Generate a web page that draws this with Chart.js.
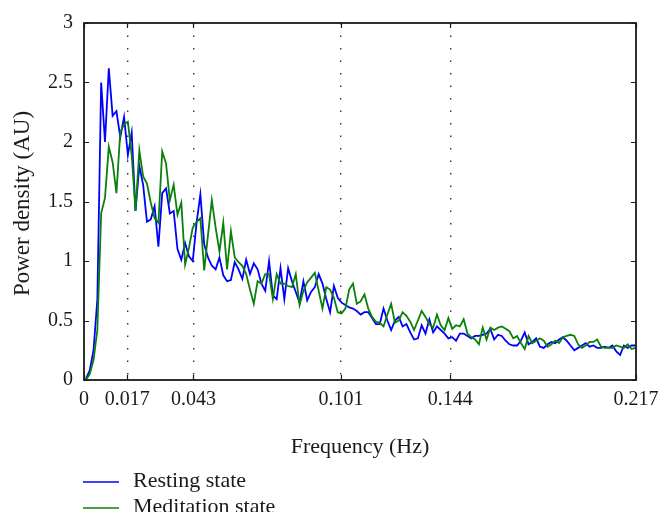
<!DOCTYPE html>
<html>
<head>
<meta charset="utf-8">
<title>Power density spectrum</title>
<script src="https://cdn.jsdelivr.net/npm/chart.js@4.4.1/dist/chart.umd.min.js"></script>
<style>
    html, body { margin: 0; padding: 0; background: #ffffff; }
    canvas { display: block; }
</style>
</head>
<body>
<canvas id="psdChart" width="670" height="527"></canvas>
<script>
// Frequency bins (Hz) - spacing of the spectrum estimate
const binWidth = 0.0015;

// Resting state power density (AU), one value per bin
const restingPower = [
    0.01, 0.08, 0.25, 0.68, 2.50, 2.00, 2.62, 2.22, 2.26, 2.04,
    2.21, 1.89, 2.08, 1.42, 1.80, 1.64, 1.33, 1.35, 1.46, 1.12,
    1.57, 1.61, 1.40, 1.42, 1.10, 1.01, 1.15, 1.04, 1.00, 1.32,
    1.56, 1.14, 1.03, 0.96, 0.93, 1.03, 0.88, 0.83, 0.84, 0.99,
    0.93, 0.85, 1.01, 0.89, 0.98, 0.93, 0.81, 0.75, 1.00, 0.71,
    0.68, 0.94, 0.68, 0.94, 0.83, 0.74, 0.65, 0.83, 0.67, 0.74,
    0.78, 0.89, 0.81, 0.68, 0.57, 0.79, 0.69, 0.65, 0.63, 0.61,
    0.60, 0.58, 0.55, 0.57, 0.57, 0.52, 0.47, 0.47, 0.60, 0.50,
    0.42, 0.50, 0.53, 0.45, 0.47, 0.40, 0.34, 0.35, 0.46, 0.39,
    0.51, 0.40, 0.45, 0.42, 0.39, 0.35, 0.36, 0.33, 0.39, 0.39,
    0.37, 0.35, 0.37, 0.37, 0.38, 0.39, 0.43, 0.34, 0.38, 0.37,
    0.33, 0.30, 0.29, 0.29, 0.33, 0.40, 0.30, 0.32, 0.35, 0.28,
    0.27, 0.30, 0.32, 0.31, 0.34, 0.36, 0.33, 0.29, 0.25, 0.27,
    0.29, 0.31, 0.28, 0.29, 0.27, 0.27, 0.28, 0.27, 0.29, 0.24,
    0.21, 0.29, 0.27, 0.29, 0.29
];

// Meditation state power density (AU)
const meditationPower = [
    0.00, 0.05, 0.17, 0.42, 1.40, 1.53, 1.96, 1.83, 1.57, 2.08,
    2.15, 2.17, 1.89, 1.42, 1.93, 1.71, 1.65, 1.49, 1.36, 1.32,
    1.92, 1.82, 1.51, 1.64, 1.39, 1.49, 0.97, 1.11, 1.28, 1.33,
    1.36, 0.92, 1.22, 1.51, 1.28, 1.08, 1.32, 0.93, 1.25, 1.03,
    0.99, 0.96, 0.89, 0.76, 0.64, 0.83, 0.81, 0.89, 0.89, 0.68,
    0.89, 0.81, 0.81, 0.79, 0.78, 0.89, 0.63, 0.75, 0.82, 0.86,
    0.90, 0.75, 0.60, 0.78, 0.76, 0.69, 0.57, 0.56, 0.60, 0.76,
    0.81, 0.64, 0.66, 0.72, 0.60, 0.53, 0.49, 0.48, 0.45, 0.55,
    0.64, 0.48, 0.50, 0.57, 0.54, 0.49, 0.42, 0.50, 0.58, 0.53,
    0.47, 0.44, 0.55, 0.46, 0.42, 0.52, 0.43, 0.46, 0.45, 0.51,
    0.39, 0.36, 0.34, 0.30, 0.44, 0.34, 0.44, 0.42, 0.44, 0.45,
    0.43, 0.41, 0.35, 0.37, 0.31, 0.26, 0.37, 0.31, 0.33, 0.35,
    0.33, 0.28, 0.30, 0.33, 0.31, 0.36, 0.37, 0.38, 0.37, 0.30,
    0.27, 0.29, 0.32, 0.32, 0.34, 0.28, 0.27, 0.27, 0.27, 0.29,
    0.28, 0.27, 0.30, 0.26, 0.27
];

// Axis ticks
const xTickValues = [0, 0.017, 0.043, 0.101, 0.144, 0.217];
const xTickLabels = ['0', '0.017', '0.043', '0.101', '0.144', '0.217'];
const yTickValues = [0, 0.5, 1, 1.5, 2, 2.5, 3];
const yTickLabels = ['0', '0.5', '1', '1.5', '2', '2.5', '3'];

const seriesLabels = ['Resting state', 'Meditation state'];
const seriesColors = ['#0000ff', '#0a800a'];

const SERIF = "'Liberation Serif', 'DejaVu Serif', serif";
const INK = '#1a1a1a';

function toPoints(values) {
    return values.map((v, i) => ({ x: (i + 0.5) * binWidth, y: v }));
}

// Box, inward ticks, axis titles and legend (matlab-like frame)
const framePlugin = {
    id: 'frame',
    afterDatasetsDraw(chart) {
        const { ctx, chartArea: a, scales: { x, y } } = chart;
        ctx.save();
        ctx.strokeStyle = INK;
        ctx.lineWidth = 1.8;
        ctx.strokeRect(a.left, a.top, a.right - a.left, a.bottom - a.top);

        const len = 5;
        ctx.lineWidth = 1.2;
        ctx.beginPath();
        xTickValues.forEach(v => {
            const px = Math.round(x.getPixelForValue(v)) + 0.5;
            ctx.moveTo(px, a.bottom); ctx.lineTo(px, a.bottom - len);
            ctx.moveTo(px, a.top); ctx.lineTo(px, a.top + len);
        });
        yTickValues.forEach(v => {
            const py = Math.round(y.getPixelForValue(v)) + 0.5;
            ctx.moveTo(a.left, py); ctx.lineTo(a.left + len, py);
            ctx.moveTo(a.right, py); ctx.lineTo(a.right - len, py);
        });
        ctx.stroke();
        ctx.restore();
    },
    afterDraw(chart) {
        const { ctx, chartArea: a } = chart;
        ctx.save();
        ctx.fillStyle = INK;
        ctx.font = '22px ' + SERIF;

        // x title
        ctx.textAlign = 'center';
        ctx.textBaseline = 'alphabetic';
        ctx.fillText('Frequency (Hz)', (a.left + a.right) / 2, 453);

        // y title
        ctx.save();
        ctx.font = '23px ' + SERIF;
        ctx.translate(29, (a.top + a.bottom) / 2 + 2);
        ctx.rotate(-Math.PI / 2);
        ctx.fillText('Power density (AU)', 0, 0);
        ctx.restore();

        // legend, cut at the bottom like the source figure
        ctx.beginPath();
        ctx.rect(0, 0, chart.width, 512);
        ctx.clip();
        ctx.textAlign = 'left';
        chart.data.datasets.forEach((ds, i) => {
            const yLine = 482 + i * 26;
            ctx.strokeStyle = ds.borderColor;
            ctx.lineWidth = 1.6;
            ctx.beginPath();
            ctx.moveTo(83, yLine);
            ctx.lineTo(119, yLine);
            ctx.stroke();
            ctx.fillText(ds.label, 133, yLine + 5);
        });
        ctx.restore();
    }
};

const chart = new Chart(document.getElementById('psdChart'), {
    type: 'line',
    data: {
        datasets: [
            {
                label: seriesLabels[0],
                data: toPoints(restingPower),
                borderColor: seriesColors[0],
                borderWidth: 1.8,
                pointRadius: 0,
                tension: 0,
                fill: false,
                order: 1
            },
            {
                label: seriesLabels[1],
                data: toPoints(meditationPower),
                borderColor: seriesColors[1],
                borderWidth: 1.8,
                pointRadius: 0,
                tension: 0,
                fill: false,
                order: 0
            }
        ]
    },
    options: {
        responsive: false,
        devicePixelRatio: 1,
        animation: false,
        layout: {
            padding: { left: 0, top: 20, right: 34, bottom: 0 }
        },
        plugins: {
            legend: { display: false },
            tooltip: { enabled: false }
        },
        scales: {
            x: {
                type: 'linear',
                min: 0,
                max: 0.217,
                afterBuildTicks(scale) {
                    scale.ticks = xTickValues.map(v => ({ value: v }));
                },
                afterFit(scale) {
                    scale.height = 147;
                },
                grid: {
                    drawTicks: false,
                    lineWidth: 1.4,
                    color: ctx => {
                        const v = ctx.tick ? ctx.tick.value : null;
                        return (v === 0 || v === 0.217) ? 'rgba(0,0,0,0)' : '#333';
                    }
                },
                border: {
                    display: false,
                    dash: [1.4, 11.1]
                },
                ticks: {
                    padding: 8,
                    autoSkip: false,
                    maxRotation: 0,
                    color: INK,
                    font: { family: SERIF, size: 20 },
                    callback: (value, index) => xTickLabels[index]
                }
            },
            y: {
                min: 0,
                max: 3,
                afterBuildTicks(scale) {
                    scale.ticks = yTickValues.map(v => ({ value: v }));
                },
                afterFit(scale) {
                    scale.width = 84;
                },
                grid: {
                    display: false,
                    drawTicks: false
                },
                border: { display: false },
                ticks: {
                    padding: 11,
                    color: INK,
                    font: { family: SERIF, size: 20 },
                    callback: (value, index) => yTickLabels[index]
                }
            }
        }
    },
    plugins: [framePlugin]
});
</script>
</body>
</html>
